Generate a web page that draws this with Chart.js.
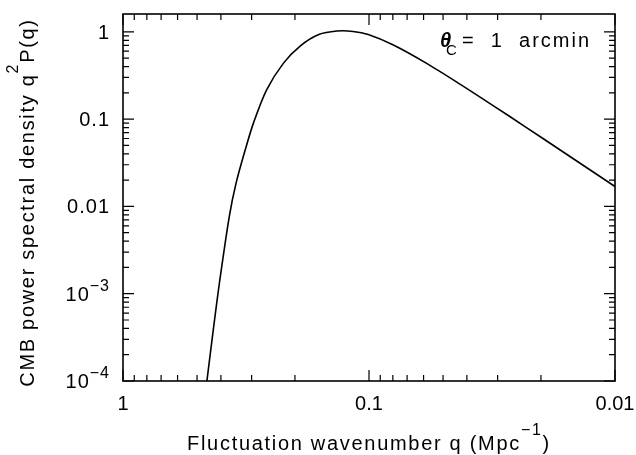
<!DOCTYPE html>
<html>
<head>
<meta charset="utf-8">
<script src="https://cdn.jsdelivr.net/npm/chart.js@4/dist/chart.umd.min.js"></script>
<style>
  body { margin: 0; background: #fff; }
  canvas { display: block; }
</style>
</head>
<body>
<canvas id="spectrum" width="636" height="455"></canvas>
<script>
// Curve: wavenumber q (Mpc^-1) and q^2 P(q)
const qValues = [0.456, 0.427, 0.406, 0.370, 0.347, 0.316, 0.295, 0.261, 0.223, 0.190, 0.160, 0.135, 0.116, 0.1007, 0.0796, 0.0583, 0.0427, 0.0313, 0.0229, 0.0167, 0.01];
const powerValues = [1.0e-4, 4.4e-4, 1.3e-3, 7.6e-3, 0.0185, 0.048, 0.090, 0.215, 0.435, 0.69, 0.93, 1.02, 1.01, 0.93, 0.706, 0.435, 0.252, 0.143, 0.080, 0.0443, 0.0169];

// Axis ticks
const xTickValues = [1, 0.1, 0.01];
const xTickLabels = ['1', '0.1', '0.01'];
const yTickValues = [1, 0.1, 0.01, 0.001, 0.0001];
const yTickLabels = [['1', ''], ['0.1', ''], ['0.01', ''], ['10', '\u22123'], ['10', '\u22124']];

const FONT = '"Liberation Sans", Arial, sans-serif';

// draw a run of [text, size, raise] pieces starting at x, returns end x
function drawPieces(ctx, pieces, x, y, spacing) {
    pieces.forEach(([text, size, raise]) => {
        ctx.font = size + 'px ' + FONT;
        ctx.letterSpacing = spacing + 'px';
        ctx.fillText(text, x, y - raise);
        x += ctx.measureText(text).width;
    });
    return x;
}

function piecesWidth(ctx, pieces, spacing) {
    let w = 0;
    pieces.forEach(([text, size]) => {
        ctx.font = size + 'px ' + FONT;
        ctx.letterSpacing = spacing + 'px';
        w += ctx.measureText(text).width;
    });
    return w;
}

// Frame, inward ticks on all four sides, labels and titles
const framePlugin = {
    id: 'frame',
    afterDraw(chart) {
        const { ctx, chartArea: a, scales: { x, y } } = chart;
        ctx.save();
        ctx.strokeStyle = '#000';
        ctx.fillStyle = '#000';

        // tick marks (majors at decades, minors at 2..9)
        ctx.lineWidth = 1.2;
        const tick = (px, isX, len) => {
            ctx.beginPath();
            if (isX) {
                ctx.moveTo(px, a.bottom); ctx.lineTo(px, a.bottom - len);
                ctx.moveTo(px, a.top); ctx.lineTo(px, a.top + len);
            } else {
                ctx.moveTo(a.left, px); ctx.lineTo(a.left + len, px);
                ctx.moveTo(a.right, px); ctx.lineTo(a.right - len, px);
            }
            ctx.stroke();
        };
        [0.01, 0.1].forEach(d => {
            for (let k = 2; k <= 9; k++) tick(x.getPixelForValue(d * k), true, 6);
        });
        xTickValues.forEach(v => tick(x.getPixelForValue(v), true, 11));
        [0.0001, 0.001, 0.01, 0.1, 1].forEach(d => {
            for (let k = 2; k <= 9; k++) {
                if (d * k <= y.max) tick(y.getPixelForValue(d * k), false, 6);
            }
        });
        yTickValues.forEach(v => tick(y.getPixelForValue(v), false, 11));

        ctx.lineWidth = 1.6;
        ctx.strokeRect(a.left, a.top, a.width, a.height);

        // x tick labels
        ctx.textBaseline = 'alphabetic';
        ctx.textAlign = 'center';
        ctx.font = '20px ' + FONT;
        xTickValues.forEach((v, i) => {
            ctx.fillText(xTickLabels[i], x.getPixelForValue(v), a.bottom + 29);
        });

        // y tick labels (right aligned, with optional exponent)
        ctx.textAlign = 'left';
        yTickValues.forEach((v, i) => {
            const py = y.getPixelForValue(v);
            const pieces = [[yTickLabels[i][0], 20, 0]];
            if (yTickLabels[i][1]) pieces.push([yTickLabels[i][1], 16, 10]);
            const w = piecesWidth(ctx, pieces, 1);
            drawPieces(ctx, pieces, a.left - 13 - w, py + 7, 1);
        });

        // x axis title
        const xTitle = [['Fluctuation wavenumber q (Mpc', 20, 0], ['\u22121', 16, 15], [')', 20, 0]];
        const xw = piecesWidth(ctx, xTitle, 1.7);
        drawPieces(ctx, xTitle, (a.left + a.right) / 2 - xw / 2, a.bottom + 69, 1.7);

        // y axis title, rotated
        const yTitle = [['CMB power spectral density q', 20, 0], ['2', 16, 16], ['P(q)', 20, 0]];
        ctx.save();
        ctx.translate(34, (a.top + a.bottom) / 2 + 5);
        ctx.rotate(-Math.PI / 2);
        const yw = piecesWidth(ctx, yTitle, 1.7);
        drawPieces(ctx, yTitle, -yw / 2, 0, 1.7);
        ctx.restore();

        // annotation: theta_C = 1 arcmin
        const ax = a.right - 175, ay = a.top + 33;
        ctx.letterSpacing = '0px';
        ctx.font = 'italic bold 20px ' + FONT;
        ctx.fillText('\u03b8', ax, ay);
        ctx.font = '15px ' + FONT;
        ctx.fillText('C', ax + 6, ay + 8);
        ctx.font = '20px ' + FONT;
        ctx.letterSpacing = '2px';
        ctx.fillText('=  1  arcmin', ax + 22, ay);

        ctx.restore();
    }
};

const points = qValues.map((q, i) => ({ x: q, y: powerValues[i] }));

new Chart(document.getElementById('spectrum'), {
    type: 'line',
    data: {
        datasets: [{
            data: points,
            borderColor: '#000',
            borderWidth: 1.6,
            pointRadius: 0,
            fill: false,
            tension: 0.3
        }]
    },
    options: {
        responsive: false,
        animation: false,
        devicePixelRatio: 1,
        layout: { padding: { left: 123, right: 21, top: 14, bottom: 74 } },
        plugins: {
            legend: { display: false },
            tooltip: { enabled: false }
        },
        scales: {
            x: { type: 'logarithmic', reverse: true, min: 0.01, max: 1, display: false },
            y: { type: 'logarithmic', min: 0.0001, max: 1.6, display: false }
        }
    },
    plugins: [framePlugin]
});
</script>
</body>
</html>
